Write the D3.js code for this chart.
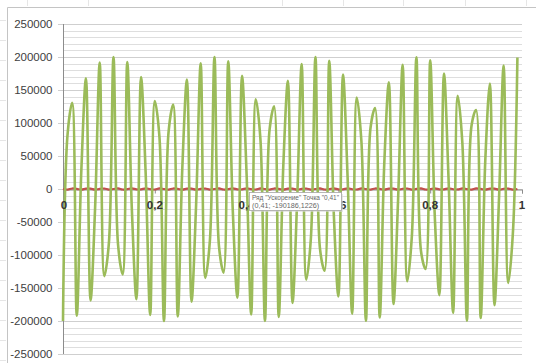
<!DOCTYPE html>
<html>
<head>
<meta charset="utf-8">
<script src="https://cdn.jsdelivr.net/npm/d3@7"></script>
<style>
  html, body { margin: 0; padding: 0; background: #ffffff; }
  svg { display: block; font-family: "Liberation Sans", Arial, sans-serif; }
</style>
</head>
<body>
<svg id="chart" width="536" height="363"></svg>
<script>
// Time samples, s
const tValues = [
  0, 0.01, 0.02, 0.03, 0.04, 0.05, 0.06, 0.07, 0.08, 0.09,
  0.1, 0.11, 0.12, 0.13, 0.14, 0.15, 0.16, 0.17, 0.18, 0.19,
  0.2, 0.21, 0.22, 0.23, 0.24, 0.25, 0.26, 0.27, 0.28, 0.29,
  0.3, 0.31, 0.32, 0.33, 0.34, 0.35, 0.36, 0.37, 0.38, 0.39,
  0.4, 0.41, 0.42, 0.43, 0.44, 0.45, 0.46, 0.47, 0.48, 0.49,
  0.5, 0.51, 0.52, 0.53, 0.54, 0.55, 0.56, 0.57, 0.58, 0.59,
  0.6, 0.61, 0.62, 0.63, 0.64, 0.65, 0.66, 0.67, 0.68, 0.69,
  0.7, 0.71, 0.72, 0.73, 0.74, 0.75, 0.76, 0.77, 0.78, 0.79,
  0.8, 0.81, 0.82, 0.83, 0.84, 0.85, 0.86, 0.87, 0.88, 0.89,
  0.9, 0.91, 0.92, 0.93, 0.94, 0.95, 0.96, 0.97, 0.98, 0.99
];

// Series "Ускорение" (acceleration)
const accel = [
  -200000, 83229, 130729, -192034, 29100, 167814, -168771, -27347, 191532, -132063,
  -81616, 199992, -84836, -129384, 192521, -30850, -166845, 169714, 25593, -191015,
  133388, 79997, -199969, 86436, 128029, -192993, 32598, 165862, -170644, -23836,
  190483, -134701, -78371, 199929, -88029, -126664, 193450, -34343, -164866, 171561,
  22077, -190186, 136005, 76742, -199875, 89615, 125289, -193892, 36086, 163858,
  -172464, -20317, 189374, -137297, -75109, 199804, -91194, -123904, 194318, -37826,
  -162836, 173353, 18554, -188797, 138579, 73472, -199718, 92766, 122511, -194727,
  39564, 161804, -174229, -16789, 188205, -139850, -71832, 199616, -94330, -121108,
  195120, -41296, -160761, 175092, 15023, -187599, 141110, 70188, -199499, 95890,
  119692, -195496, 43027, 159709, -175951, -13256, 186978, -142364, -68540, 199366
];

// Series "Скорость" (velocity) – small next to the acceleration scale
const velocity = [
  0, -909, 757, 279, -989, 544, 537, -991, 288, 751,
  -913, 9, 906, -763, -271, 988, -551, -529, 992, -296,
  -745, 917, -18, -902, 768, 262, -987, 559, 522, -993,
  305, 739, -920, 27, 898, -774, -254, 985, -566, -514,
  994, -313, -733, 923, -35, -894, 779, 245, -984, 573,
  506, -995, 322, 727, -927, 44, 890, -785, -237, 982,
  -581, -499, 996, -330, -721, 930, -53, -886, 791, 228,
  -980, 588, 491, -996, 338, 715, -933, 62, 882, -796,
  -219, 978, -595, -483, 997, -347, -709, 936, -71, -878,
  801, 211, -977, 602, 475, -998, 355, 702, -940, 80
];

const yTickValues = [250000, 200000, 150000, 100000, 50000, 0, -50000, -100000, -150000, -200000, -250000];
const yTickLabels = ["250000", "200000", "150000", "100000", "50000", "0", "-50000", "-100000", "-150000", "-200000", "-250000"];
const xTickValues = [0, 0.2, 0.4, 0.6, 0.8, 1];
const xTickLabels = ["0", "0,2", "0,4", "0,6", "0,8", "1"];

// Data tip for the hovered point
const tipSeries = "Ускорение";
const tipIndex = 41;
const tipXText = "0,41";
const tipYText = "-190186,1226";

const svg = d3.select("#chart");
const W = 536, H = 363;

const x = d3.scaleLinear().domain([0, 1]).range([63, 522]);
const y = d3.scaleLinear().domain([-250000, 250000]).range([354, 24]);

// Faint sheet cell borders around the chart object
const sheet = svg.append("g").attr("stroke", "#e6e6e6").attr("stroke-width", 1);
[27, 88, 282, 343, 403, 465, 526].forEach(cx => {
  sheet.append("line").attr("x1", cx + 0.5).attr("x2", cx + 0.5).attr("y1", 0).attr("y2", 6);
});
d3.range(20, H, 20).forEach(cy => {
  sheet.append("line").attr("x1", 0).attr("x2", 6).attr("y1", cy + 0.5).attr("y2", cy + 0.5);
});

// Chart area border
svg.append("path")
  .attr("d", `M7.5,${H} V7.5 H${W}`)
  .attr("fill", "none")
  .attr("stroke", "#c4c4c4")
  .attr("stroke-width", 1);

// Horizontal gridlines: minor every 10000, major every 50000
const grid = svg.append("g");
d3.range(-250000, 250001, 10000).forEach(v => {
  const major = v % 50000 === 0;
  grid.append("line")
    .attr("x1", major ? 58 : 63).attr("x2", 522)
    .attr("y1", Math.round(y(v)) + 0.5).attr("y2", Math.round(y(v)) + 0.5)
    .attr("stroke", major ? "#cfcfcf" : "#dedede")
    .attr("stroke-width", 1);
});

// Value axis
const yAxis = svg.append("g")
  .attr("transform", "translate(63.5,0)")
  .call(d3.axisLeft(y)
    .tickValues(yTickValues)
    .tickFormat((d, i) => yTickLabels[i])
    .tickSize(0)
    .tickPadding(11));
yAxis.select(".domain").attr("stroke", "#8c8c8c").attr("d", `M0,${y(250000)}V${y(-250000)}`);
yAxis.selectAll("text")
  .attr("fill", "#404040")
  .style("font-size", "11.5px")
  .style("font-family", "'Liberation Sans', Arial, sans-serif");

// Category axis crossing at zero
const xAxis = svg.append("g")
  .attr("transform", `translate(0,${Math.round(y(0)) + 0.5})`)
  .call(d3.axisBottom(x)
    .tickValues(xTickValues)
    .tickFormat((d, i) => xTickLabels[i])
    .tickSize(4)
    .tickPadding(6));
xAxis.select(".domain").attr("stroke", "#8c8c8c");
xAxis.selectAll(".tick line").attr("stroke", "#8c8c8c");
xAxis.selectAll("text").remove();

// Series lines, smoothed
const pts = tValues.map((t, i) => ({ t, a: accel[i], v: velocity[i] }));
const smooth = d3.curveCatmullRom.alpha(0.5);

svg.append("path")
  .datum(pts)
  .attr("fill", "none")
  .attr("stroke", "#c0504d")
  .attr("stroke-width", 2.2)
  .attr("d", d3.line().x(d => x(d.t)).y(d => y(d.v)).curve(smooth));

svg.append("path")
  .datum(pts)
  .attr("fill", "none")
  .attr("stroke", "#9bbb59")
  .attr("stroke-width", 2.6)
  .attr("stroke-linejoin", "round")
  .attr("d", d3.line().x(d => x(d.t)).y(d => y(d.a)).curve(smooth));

// Category labels drawn above the series
const xl = svg.append("g");
xTickValues.forEach((v, i) => {
  xl.append("text")
    .attr("x", x(v) + (i === 0 ? 1 : 0))
    .attr("y", Math.round(y(0)) + 20)
    .attr("text-anchor", "middle")
    .attr("fill", "#333333")
    .style("font-size", "11.5px")
    .style("font-weight", "bold")
    .text(xTickLabels[i]);
});

// Data tip
const tip = svg.append("g").attr("transform", `translate(${Math.round(x(tValues[tipIndex])) - 1.5},${Math.round(y(0)) + 3.5})`);
tip.append("rect")
  .attr("x", 1.5).attr("y", 1.5).attr("width", 92).attr("height", 18)
  .attr("fill", "#d8d8d8").attr("opacity", 0.6);
tip.append("rect")
  .attr("x", 0).attr("y", 0).attr("width", 92).attr("height", 18)
  .attr("fill", "#ffffff").attr("stroke", "#a6a6a6").attr("stroke-width", 0.8);
tip.append("text")
  .attr("x", 2.5).attr("y", 7.5)
  .attr("fill", "#666666")
  .style("font-size", "7.2px")
  .attr("textLength", 87)
  .attr("lengthAdjust", "spacingAndGlyphs")
  .text(`Ряд "${tipSeries}" Точка "${tipXText}"`);
tip.append("text")
  .attr("x", 2.5).attr("y", 15.5)
  .attr("fill", "#666666")
  .style("font-size", "7.2px")
  .text(`(${tipXText}; ${tipYText})`);
</script>
</body>
</html>
